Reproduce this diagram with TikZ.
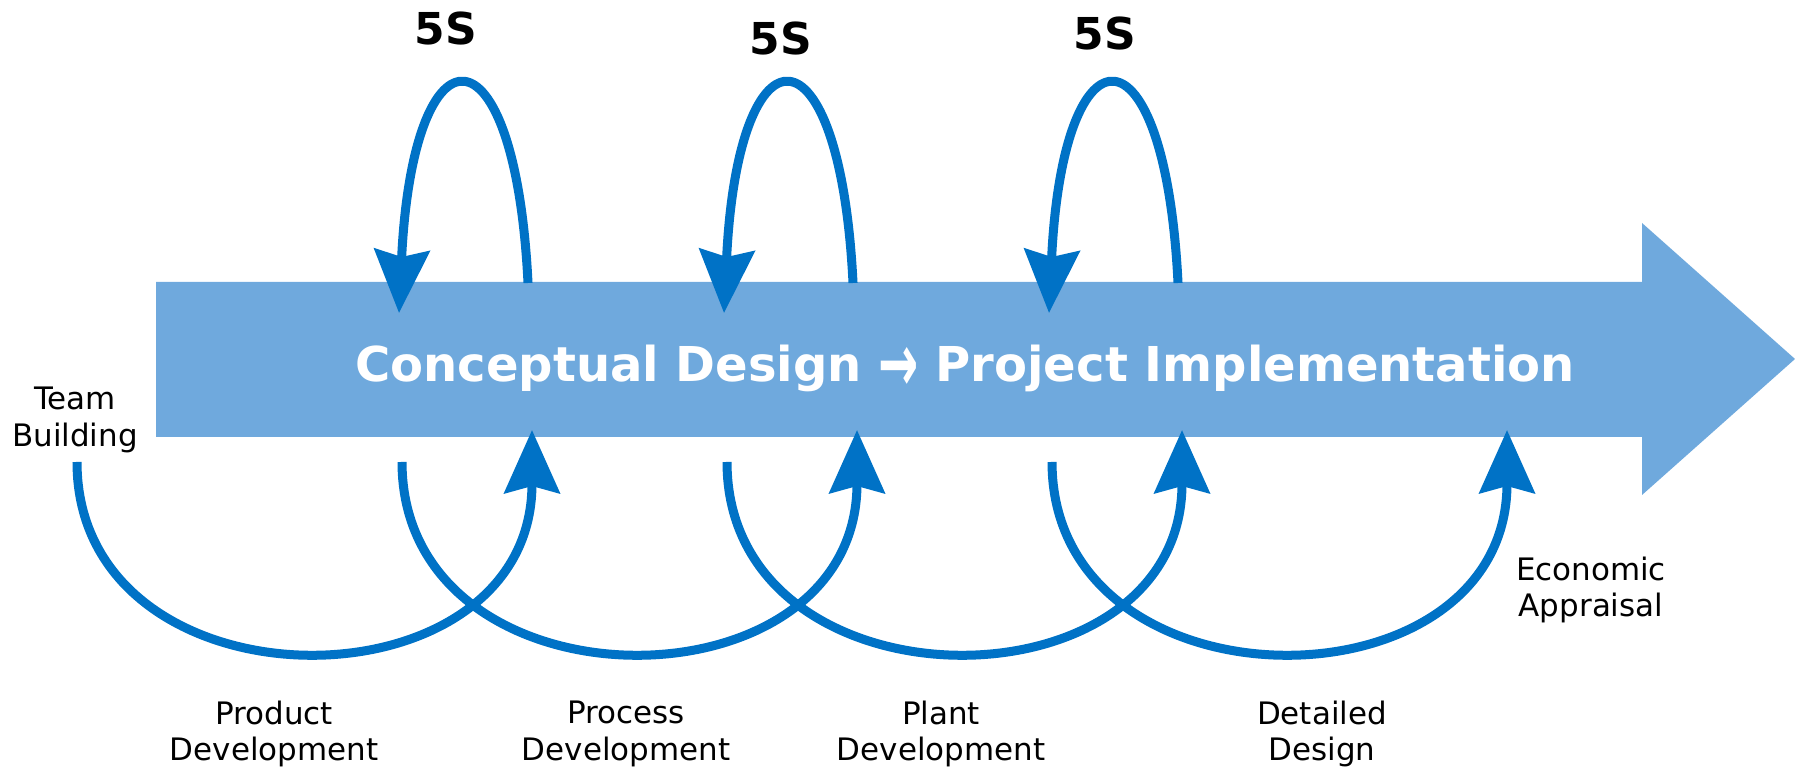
\documentclass[tikz,border=0pt]{standalone}
\usepackage{fontspec}
\setmainfont{DejaVu Sans}
\usetikzlibrary{arrows.meta}
\definecolor{bodyblue}{RGB}{111,169,221}
\definecolor{loopblue}{RGB}{0,114,198}
\begin{document}
\begin{tikzpicture}[x=0.01cm,y=-0.01cm,
  loopline/.style={draw=loopblue, line width=0.09cm, -{Stealth[length=0.63cm,width=0.55cm,inset=0.07cm]}},
  lbl/.style={align=center, inner sep=0pt, font=\fontsize{8.8}{10.5}\selectfont},
  fives/.style={anchor=base, inner sep=0pt, font=\bfseries\fontsize{12.5}{15}\selectfont},
]
\useasboundingbox (0,0) rectangle (1795,768);
% main arrow
\fill[bodyblue] (156,282) -- (1642,282) -- (1642,223) -- (1795,359) -- (1642,495) -- (1642,437) -- (156,437) -- cycle;
\node[anchor=base, inner sep=0pt, text=white, font=\bfseries\fontsize{13.66}{16}\selectfont] (title) at (965,382) {Conceptual Design \raisebox{-2.8pt}{\scalebox{1}[1.7]{→}} Project Implementation};
% 5S loops
\foreach \i/\dx in {1/0,2/325,3/650}{
  \coordinate (ts\i) at (528+\dx,283);
  \coordinate (te\i) at (399+\dx,313);
  \draw[loopline] (ts\i) .. controls +(-13,-265) and +(14,-295) .. (te\i);
}
\node[fives] (s1) at (446,45) {5S};
\node[fives] (s2) at (781,55) {5S};
\node[fives] (s3) at (1105,50) {5S};
% bottom loops
\foreach \i/\dx in {1/0,2/325,3/650,4/975}{
  \coordinate (bs\i) at (77+\dx,462);
  \coordinate (be\i) at (532+\dx,430);
  \draw[loopline] (bs\i) .. controls +(0,254) and +(0,286) .. (be\i);
}
% labels
\node[lbl] (team) at (75,420) {Team\\Building};
\node[lbl] (prod) at (274,734) {Product\\Development};
\node[lbl] (proc) at (626,734) {Process\\Development};
\node[lbl] (plant) at (941,734) {Plant\\Development};
\node[lbl] (det) at (1322,734) {Detailed\\Design};
\node[lbl] (eco) at (1591,590) {Economic\\Appraisal};
\end{tikzpicture}
\end{document}
